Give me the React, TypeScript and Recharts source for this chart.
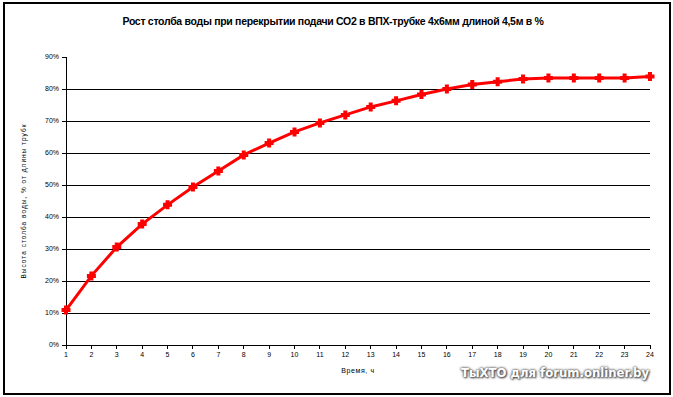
import { Label, Line, LineChart, ReferenceLine, XAxis, YAxis } from "recharts";

const HOURS = [
  "1", "2", "3", "4", "5", "6", "7", "8", "9", "10", "11", "12",
  "13", "14", "15", "16", "17", "18", "19", "20", "21", "22", "23", "24",
];
const LEVEL = [
  10.9, 21.6, 30.6, 37.8, 43.8, 49.4, 54.4, 59.4, 63.1, 66.6, 69.4, 71.9,
  74.4, 76.3, 78.3, 80.0, 81.4, 82.3, 83.1, 83.4, 83.4, 83.4, 83.4, 83.9,
];
const Y_TICKS = [0, 10, 20, 30, 40, 50, 60, 70, 80, 90];
const GRID_VALUES = [10, 20, 30, 40, 50, 60, 70, 80];

const TITLE =
  "Рост столба воды при перекрытии подачи СО2 в ВПХ-трубке 4х6мм длиной 4,5м в %";
const Y_LABEL = "Высота столба воды, % от длины трубк";
const X_LABEL = "Время, ч";
const WATERMARK = "ТыХТО для forum.onliner.by";

const RED = "#ff0000";
const FONT = "'Liberation Sans', Arial, sans-serif";

const data = HOURS.map((h, i) => ({ hour: h, level: LEVEL[i] }));

const axisStroke = { stroke: "#000", shapeRendering: "crispEdges" } as any;

function PlusDot(props: any) {
  const { cx, cy, index } = props;
  if (cx == null || cy == null) return null;
  const a = 4.5;
  const b = 2;
  return (
    <path
      key={index}
      d={`M${cx - a},${cy - b}H${cx - b}V${cy - a}H${cx + b}V${cy - b}H${cx + a}V${cy + b}H${cx + b}V${cy + a}H${cx - b}V${cy + b}H${cx - a}Z`}
      fill={RED}
    />
  );
}

export default function App() {
  return (
    <div
      style={{
        position: "absolute",
        left: 0,
        top: 0,
        width: 673,
        height: 397,
        background: "#fff",
        fontFamily: FONT,
      }}
    >
      <div
        style={{
          position: "absolute",
          left: 3,
          top: 2,
          width: 664,
          height: 389,
          border: "2px solid #000",
        }}
      />
      <div
        style={{
          position: "absolute",
          left: 0,
          width: 666,
          top: 15,
          textAlign: "center",
          fontSize: 10.5,
          fontWeight: "bold",
          letterSpacing: -0.3,
          color: "#000",
        }}
      >
        {TITLE}
      </div>
      <LineChart
        width={673}
        height={397}
        data={data}
        margin={{ top: 57, right: 23, left: 0, bottom: 0 }}
        style={{ position: "absolute", left: 0, top: 0 }}
      >
        <XAxis
          dataKey="hour"
          height={52}
          tick={{ fontSize: 7, fill: "#000", fontFamily: FONT }}
          tickSize={4}
          tickMargin={3}
          interval={0}
          axisLine={axisStroke}
          tickLine={axisStroke}
        >
          <Label
            value={X_LABEL}
            position="insideBottom"
            offset={24}
            style={{ fontSize: 7, fill: "#000", letterSpacing: 0.6 }}
          />
        </XAxis>
        <YAxis
          width={66}
          domain={[0, 90]}
          ticks={Y_TICKS}
          interval={0}
          tickFormatter={(v: number) => `${v}%`}
          tick={{ fontSize: 7, fill: "#000", fontFamily: FONT }}
          tickSize={4}
          tickMargin={3}
          axisLine={axisStroke}
          tickLine={axisStroke}
        >
          <Label
            value={Y_LABEL}
            angle={-90}
            position="insideLeft"
            offset={24}
            style={{ fontSize: 6.5, fill: "#000", letterSpacing: 1, textAnchor: "middle" }}
          />
        </YAxis>
        {GRID_VALUES.map((v) => (
          <ReferenceLine
            key={v}
            y={v}
            stroke="#000"
            strokeWidth={1}
            shapeRendering="crispEdges"
          />
        ))}
        <Line
          type="linear"
          dataKey="level"
          stroke={RED}
          strokeWidth={3}
          dot={<PlusDot />}
          activeDot={false}
          isAnimationActive={false}
        />
      </LineChart>
      <div
        style={{
          position: "absolute",
          left: 461,
          top: 366,
          fontFamily: "'DejaVu Sans', Verdana, sans-serif",
          fontWeight: "bold",
          fontSize: 11.7,
          color: "#fff",
          textShadow: "0 0 2px #555, 0 0 3px #555, 1px 1px 2px #444",
          whiteSpace: "nowrap",
        }}
      >
        {WATERMARK}
      </div>
    </div>
  );
}
